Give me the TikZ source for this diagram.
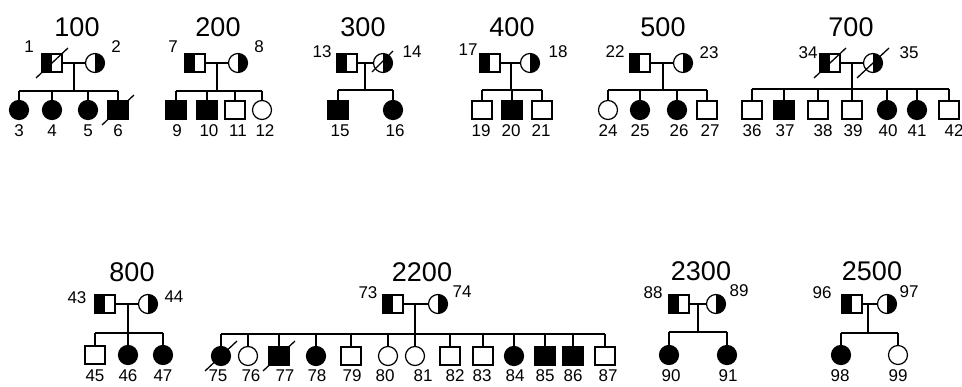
\documentclass[tikz,border=0pt]{standalone}
\usepackage{fontspec}
\setmainfont{Liberation Sans}
\tikzset{
  sym/.style={draw, line width=1.2pt, inner sep=0pt},
  msq/.style={sym, rectangle, minimum width=20pt, minimum height=18pt},
  fci/.style={sym, circle, minimum size=19pt},
  aff/.style={fill=black},
  carm/.style={path picture={\fill[black] (path picture bounding box.south west) rectangle (path picture bounding box.north);}},
  carf/.style={path picture={\fill[black] (path picture bounding box.north) rectangle (path picture bounding box.south east);}},
  lab/.style={font=\fontsize{17}{17}\selectfont, inner sep=0pt},
  ttl/.style={font=\fontsize{27}{27}\selectfont, inner sep=0pt},
  ln/.style={line width=1.3pt},
}
\newcommand\deceasedmark[1]{\draw[ln] ([shift={(-16pt,-15pt)}]#1.center) -- ([shift={(16pt,15pt)}]#1.center);}
\begin{document}
\begin{tikzpicture}[x=1pt,y=-1pt]
\useasboundingbox (0,0) rectangle (962,387);

% ---------- family 100
\node[ttl] (t100) at (77,27) {100};
\node[msq,carm] (p1) at (52,63) {};
\node[fci,carf] (p2) at (95,63) {};
\node[lab] (l1) at (29,47) {1};
\node[lab] (l2) at (116,47) {2};
\coordinate (d100) at (74,91);
\node[fci,aff] (c3) at (19,110) {};
\node[fci,aff] (c4) at (52,110) {};
\node[fci,aff] (c5) at (88,110) {};
\node[msq,aff] (c6) at (118,110) {};
\draw[ln] (p1) -- (p2);
\draw[ln] (d100 |- p1) -- (d100);
\draw[ln] (c3 |- d100) -- (c6 |- d100);
\foreach \c in {c3,c4,c5,c6} \draw[ln] (\c |- d100) -- (\c);
\deceasedmark{p1}
\deceasedmark{c6}
\foreach \n/\x in {3/19,4/52,5/88,6/118} \node[lab] (l\n) at (\x,131) {\n};

% ---------- family 200
\node[ttl] (t200) at (218,27) {200};
\node[msq,carm] (p7) at (195,63) {};
\node[fci,carf] (p8) at (238,63) {};
\node[lab] (l7) at (173,47) {7};
\node[lab] (l8) at (259,47) {8};
\coordinate (d200) at (217,91);
\node[msq,aff] (c9) at (176,110) {};
\node[msq,aff] (c10) at (207,110) {};
\node[msq] (c11) at (235,110) {};
\node[fci] (c12) at (262,110) {};
\draw[ln] (p7) -- (p8);
\draw[ln] (d200 |- p7) -- (d200);
\draw[ln] (c9 |- d200) -- (c12 |- d200);
\foreach \c in {c9,c10,c11,c12} \draw[ln] (\c |- d200) -- (\c);
\foreach \n/\x in {9/177,10/209,11/238,12/265} \node[lab] (l\n) at (\x,131) {\n};

% ---------- family 300
\node[ttl] (t300) at (363,27) {300};
\node[msq,carm] (p13) at (347,63) {};
\node[fci,carf] (p14) at (383,63) {};
\node[lab] (l13) at (322,52) {13};
\node[lab] (l14) at (412,52) {14};
\coordinate (d300) at (365,90);
\node[msq,aff] (c15) at (338,110) {};
\node[fci,aff] (c16) at (393,110) {};
\draw[ln] (p13) -- (p14);
\draw[ln] (d300 |- p13) -- (d300);
\draw[ln] (c15 |- d300) -- (c16 |- d300);
\foreach \c in {c15,c16} \draw[ln] (\c |- d300) -- (\c);
\draw[ln] ([shift={(-11pt,-9pt)}]p14.center) -- ([shift={(10pt,12pt)}]p14.center);
\foreach \n/\x in {15/340,16/395} \node[lab] (l\n) at (\x,131) {\n};

% ---------- family 400
\node[ttl] (t400) at (512,27) {400};
\node[msq,carm] (p17) at (490,63) {};
\node[fci,carf] (p18) at (530,63) {};
\node[lab] (l17) at (468,50) {17};
\node[lab] (l18) at (558,52) {18};
\coordinate (d400) at (511,90);
\node[msq] (c19) at (482,110) {};
\node[msq,aff] (c20) at (512,110) {};
\node[msq] (c21) at (542,110) {};
\draw[ln] (p17) -- (p18);
\draw[ln] (d400 |- p17) -- (d400);
\draw[ln] (c19 |- d400) -- (c21 |- d400);
\foreach \c in {c19,c20,c21} \draw[ln] (\c |- d400) -- (\c);
\foreach \n/\x in {19/481,20/511,21/541} \node[lab] (l\n) at (\x,131) {\n};

% ---------- family 500
\node[ttl] (t500) at (663,27) {500};
\node[msq,carm] (p22) at (640,63) {};
\node[fci,carf] (p23) at (683,63) {};
\node[lab] (l22) at (615,52) {22};
\node[lab] (l23) at (709,53) {23};
\coordinate (d500) at (663,90);
\node[fci] (c24) at (608,110) {};
\node[fci,aff] (c25) at (640,110) {};
\node[fci,aff] (c26) at (677,110) {};
\node[msq] (c27) at (707,110) {};
\draw[ln] (p22) -- (p23);
\draw[ln] (d500 |- p22) -- (d500);
\draw[ln] (c24 |- d500) -- (c27 |- d500);
\foreach \c in {c24,c25,c26,c27} \draw[ln] (\c |- d500) -- (\c);
\foreach \n/\x in {24/608,25/640,26/679,27/710} \node[lab] (l\n) at (\x,131) {\n};

% ---------- family 700
\node[ttl] (t700) at (851,27) {700};
\node[msq,carm] (p34) at (830,63) {};
\node[fci,carf] (p35) at (873,63) {};
\node[lab] (l34) at (808,53) {34};
\node[lab] (l35) at (909,53) {35};
\coordinate (d700) at (852,89);
\node[msq] (c36) at (752,110) {};
\node[msq,aff] (c37) at (784,110) {};
\node[msq] (c38) at (818,110) {};
\node[msq] (c39) at (852,110) {};
\node[fci,aff] (c40) at (887,110) {};
\node[fci,aff] (c41) at (917,110) {};
\node[msq] (c42) at (949,110) {};
\draw[ln] (p34) -- (p35);
\draw[ln] (d700 |- p34) -- (d700);
\draw[ln] (c36 |- d700) -- (c42 |- d700);
\foreach \c in {c36,c37,c38,c39,c40,c41,c42} \draw[ln] (\c |- d700) -- (\c);
\deceasedmark{p34}
\deceasedmark{p35}
\foreach \n/\x in {36/752,37/785,38/823,39/853,40/888,41/917,42/954} \node[lab] (l\n) at (\x,131) {\n};

% ---------- family 800
\node[ttl] (t800) at (132,272) {800};
\node[msq,carm] (p43) at (105,304) {};
\node[fci,carf] (p44) at (148,304) {};
\node[lab] (l43) at (77,298) {43};
\node[lab] (l44) at (174,297) {44};
\coordinate (d800) at (128,333);
\node[msq] (c45) at (95,355) {};
\node[fci,aff] (c46) at (128,355) {};
\node[fci,aff] (c47) at (163,355) {};
\draw[ln] (p43) -- (p44);
\draw[ln] (d800 |- p43) -- (d800);
\draw[ln] (c45 |- d800) -- (c47 |- d800);
\foreach \c in {c45,c46,c47} \draw[ln] (\c |- d800) -- (\c);
\foreach \n/\x in {45/95,46/128,47/163} \node[lab] (l\n) at (\x,376) {\n};

% ---------- family 2200
\node[ttl] (t2200) at (422,272) {2200};
\node[msq,carm] (p73) at (393,304) {};
\node[fci,carf] (p74) at (438,304) {};
\node[lab] (l73) at (368,293) {73};
\node[lab] (l74) at (462,292) {74};
\coordinate (d2200) at (415,334);
\node[fci,aff] (c75) at (221,356) {};
\node[fci] (c76) at (248,356) {};
\node[msq,aff] (c77) at (279,356) {};
\node[fci,aff] (c78) at (316,356) {};
\node[msq] (c79) at (351,356) {};
\node[fci] (c80) at (388,356) {};
\node[fci] (c81) at (415,356) {};
\node[msq] (c82) at (450,356) {};
\node[msq] (c83) at (483,356) {};
\node[fci,aff] (c84) at (514,356) {};
\node[msq,aff] (c85) at (545,356) {};
\node[msq,aff] (c86) at (573,356) {};
\node[msq] (c87) at (605,356) {};
\draw[ln] (p73) -- (p74);
\draw[ln] (d2200 |- p73) -- (d2200);
\draw[ln] (c75 |- d2200) -- (c87 |- d2200);
\foreach \c in {c75,c76,c77,c78,c79,c80,c81,c82,c83,c84,c85,c86,c87} \draw[ln] (\c |- d2200) -- (\c);
\deceasedmark{c75}
\deceasedmark{c77}
\foreach \n/\x in {75/218,76/251,77/285,78/317,79/352,80/385,81/423,82/455,83/482,84/515,85/545,86/573,87/608} \node[lab] (l\n) at (\x,376) {\n};

% ---------- family 2300
\node[ttl] (t2300) at (701,271) {2300};
\node[msq,carm] (p88) at (679,304) {};
\node[fci,carf] (p89) at (716,304) {};
\node[lab] (l88) at (653,293) {88};
\node[lab] (l89) at (739,291) {89};
\coordinate (d2300) at (698,332);
\node[fci,aff] (c90) at (669,355) {};
\node[fci,aff] (c91) at (727,355) {};
\draw[ln] (p88) -- (p89);
\draw[ln] (d2300 |- p88) -- (d2300);
\draw[ln] (c90 |- d2300) -- (c91 |- d2300);
\foreach \c in {c90,c91} \draw[ln] (\c |- d2300) -- (\c);
\foreach \n/\x in {90/671,91/728} \node[lab] (l\n) at (\x,376) {\n};

% ---------- family 2500
\node[ttl] (t2500) at (872,271) {2500};
\node[msq,carm] (p96) at (852,304) {};
\node[fci,carf] (p97) at (887,304) {};
\node[lab] (l96) at (822,293) {96};
\node[lab] (l97) at (909,292) {97};
\coordinate (d2500) at (868,333);
\node[fci,aff] (c98) at (841,355) {};
\node[fci] (c99) at (898,355) {};
\draw[ln] (p96) -- (p97);
\draw[ln] (d2500 |- p96) -- (d2500);
\draw[ln] (c98 |- d2500) -- (c99 |- d2500);
\foreach \c in {c98,c99} \draw[ln] (\c |- d2500) -- (\c);
\foreach \n/\x in {98/840,99/898} \node[lab] (l\n) at (\x,376) {\n};
\end{tikzpicture}
\end{document}
